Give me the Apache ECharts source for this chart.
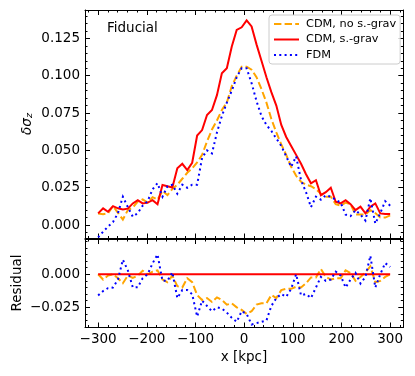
<!DOCTYPE html>
<html>
<head>
<meta charset="utf-8">
<script src="https://cdn.jsdelivr.net/npm/echarts@6/dist/echarts.min.js"></script>
<style>
html, body { margin: 0; padding: 0; background: #fff; }
#chart { width: 415px; height: 376px; }
</style>
</head>
<body>
<div id="chart"></div>
<script>
// x positions of the profile bins [kpc]
const xKpc = [-300, -289.8, -279.7, -269.5, -259.3, -249.2, -239.0, -228.8, -218.6, -208.5,
  -198.3, -188.1, -178.0, -167.8, -157.6, -147.5, -137.3, -127.1, -116.9, -106.8,
  -96.6, -86.4, -76.3, -66.1, -55.9, -45.8, -35.6, -25.4, -15.3, -5.1,
  5.1, 15.3, 25.4, 35.6, 45.8, 55.9, 66.1, 76.3, 86.4, 96.6,
  106.8, 116.9, 127.1, 137.3, 147.5, 157.6, 167.8, 178.0, 188.1, 198.3,
  208.5, 218.6, 228.8, 239.0, 249.2, 259.3, 269.5, 279.7, 289.8, 300];

// top panel: delta sigma_z
const cdmNoSgrav = [0.0078, 0.0072, 0.0079, 0.0127, 0.0082, 0.0037, 0.0100, 0.0118, 0.0157, 0.0172,
  0.0150, 0.0187, 0.0170, 0.0228, 0.0200, 0.0242, 0.0270, 0.0310, 0.0350, 0.0380,
  0.0420, 0.0470, 0.0560, 0.0640, 0.0700, 0.0770, 0.0820, 0.0930, 0.1000, 0.1060,
  0.1060, 0.1040, 0.0990, 0.0910, 0.0820, 0.0710, 0.0620, 0.0540, 0.0470, 0.0390,
  0.0330, 0.0290, 0.0270, 0.0260, 0.0240, 0.0210, 0.0190, 0.0190, 0.0140, 0.0130,
  0.0150, 0.0140, 0.0070, 0.0070, 0.0070, 0.0100, 0.0080, 0.0050, 0.0050, 0.0065];
const cdmSgrav = [0.0078, 0.0112, 0.0089, 0.0127, 0.0112, 0.0105, 0.0110, 0.0145, 0.0167, 0.0145,
  0.0150, 0.0167, 0.0140, 0.0268, 0.0260, 0.0252, 0.0380, 0.0410, 0.0368, 0.0417,
  0.0600, 0.0636, 0.0737, 0.0770, 0.0870, 0.1016, 0.1050, 0.1195, 0.1307, 0.1324,
  0.1370, 0.1330, 0.1210, 0.1100, 0.0990, 0.0890, 0.0800, 0.0670, 0.0590, 0.0530,
  0.0470, 0.0410, 0.0340, 0.0280, 0.0300, 0.0200, 0.0220, 0.0250, 0.0156, 0.0145,
  0.0167, 0.0140, 0.0100, 0.0123, 0.0078, 0.0123, 0.0145, 0.0078, 0.0074, 0.0074];
const fdm = [-0.0083, -0.0045, -0.0010, 0.0020, 0.0080, 0.0190, 0.0120, 0.0056, 0.0080, 0.0130,
  0.0160, 0.0240, 0.0280, 0.0190, 0.0260, 0.0270, 0.0210, 0.0270, 0.0250, 0.0270,
  0.0270, 0.0450, 0.0500, 0.0480, 0.0620, 0.0730, 0.0820, 0.0900, 0.0990, 0.1050,
  0.1050, 0.0950, 0.0830, 0.0730, 0.0670, 0.0630, 0.0580, 0.0530, 0.0460, 0.0390,
  0.0460, 0.0300, 0.0220, 0.0120, 0.0190, 0.0170, 0.0200, 0.0190, 0.0170, 0.0150,
  0.0070, 0.0060, 0.0100, 0.0070, 0.0030, 0.0180, 0.0010, 0.0080, 0.0160, 0.0130];

// bottom panel: residual w.r.t. CDM with self-gravity
const resNoSgrav = [0.0000, -0.0040, -0.0010, 0.0000, -0.0030, -0.0068, -0.0010, -0.0027, -0.0010, 0.0027,
  0.0000, 0.0020, 0.0030, -0.0040, -0.0060, -0.0010, -0.0090, -0.0100, -0.0030, -0.0060,
  -0.0157, -0.0195, -0.0180, -0.0210, -0.0175, -0.0195, -0.0230, -0.0220, -0.0250, -0.0270,
  -0.0300, -0.0280, -0.0230, -0.0220, -0.0220, -0.0157, -0.0180, -0.0120, -0.0110, -0.0110,
  -0.0094, -0.0100, -0.0068, -0.0024, -0.0024, 0.0040, -0.0020, -0.0040, -0.0030, -0.0030,
  0.0030, 0.0010, -0.0050, -0.0020, 0.0015, 0.0060, -0.0060, -0.0050, -0.0020, 0.0000];
const resSgrav = [0, 0, 0, 0, 0, 0, 0, 0, 0, 0, 0, 0, 0, 0, 0, 0, 0, 0, 0, 0,
  0, 0, 0, 0, 0, 0, 0, 0, 0, 0, 0, 0, 0, 0, 0, 0, 0, 0, 0, 0,
  0, 0, 0, 0, 0, 0, 0, 0, 0, 0, 0, 0, 0, 0, 0, 0, 0, 0, 0, 0];
const resFdm = [-0.0160, -0.0127, -0.0105, -0.0100, -0.0040, 0.0110, 0.0030, -0.0100, -0.0098, -0.0030,
  0.0000, 0.0083, 0.0150, -0.0050, -0.0050, 0.0015, -0.0180, -0.0120, -0.0120, -0.0150,
  -0.0320, -0.0200, -0.0240, -0.0280, -0.0250, -0.0260, -0.0290, -0.0330, -0.0360, -0.0280,
  -0.0300, -0.0380, -0.0370, -0.0360, -0.0350, -0.0240, -0.0180, -0.0150, -0.0170, -0.0110,
  0.0000, -0.0160, -0.0150, -0.0180, -0.0100, -0.0020, -0.0050, -0.0040, 0.0020, -0.0010,
  -0.0100, -0.0040, 0.0010, -0.0070, -0.0020, 0.0140, -0.0100, 0.0000, 0.0085, 0.0055];

// tick labels
const xTicks = [-300, -200, -100, 0, 100, 200, 300];
const yTopTicks = [0, 0.025, 0.05, 0.075, 0.1, 0.125];
const yBotTicks = [-0.025, 0];

const FONT = 'DejaVu Sans';
const names = ['CDM, no s.-grav', 'CDM, s.-grav', 'FDM'];
const colors = ['#ffa500', '#ff0000', '#0000ff'];
const dashes = [[7.4, 3.2], 'solid', [2, 3.3]];

const steps = (lo, hi, step) => {
  let out = [];
  for (let i = Math.ceil(lo / step - 1e-9); i * step <= hi + 1e-12; i++) out.push(+(i * step).toFixed(6));
  return out;
};
const fmtX = v => (v < 0 ? '\u2212' : '') + Math.abs(v);
const fmtY = v => (v < -1e-9 ? '\u2212' : '') + Math.abs(v).toFixed(3);

const makeAxis = (gridIndex, position, min, max, ticks, isMajor, labels, fmt) => ({
  type: 'value',
  gridIndex: gridIndex,
  position: position,
  min: min,
  max: max,
  axisLine: { show: isMajor, onZero: false, lineStyle: { color: '#000', width: 1 } },
  axisTick: { show: true, inside: true, length: isMajor ? 5 : 2.5, customValues: ticks, lineStyle: { color: '#000', width: 1 } },
  axisLabel: labels ? {
    show: true, customValues: ticks, formatter: fmt, color: '#000',
    fontFamily: FONT, fontSize: 13.5, margin: 5
  } : { show: false },
  splitLine: { show: false }
});

const X_MIN = -327, X_MAX = 327;
const panels = [
  { yMin: -0.009, yMax: 0.144, yTicks: yTopTicks, yMinorStep: 0.005 },
  { yMin: -0.0403, yMax: 0.0267, yTicks: yBotTicks, yMinorStep: 0.005 }
];
const xMinor = steps(X_MIN, X_MAX, 20).filter(v => v % 100 !== 0);

let xAxes = [], yAxes = [];
panels.forEach((p, g) => {
  const yMinor = steps(p.yMin, p.yMax, p.yMinorStep).filter(v => !p.yTicks.some(t => Math.abs(t - v) < 1e-9));
  xAxes.push(makeAxis(g, 'bottom', X_MIN, X_MAX, xTicks, true, g === 1, fmtX));
  xAxes.push(makeAxis(g, 'bottom', X_MIN, X_MAX, xMinor, false, false));
  xAxes.push(makeAxis(g, 'top', X_MIN, X_MAX, xTicks, true, false));
  xAxes.push(makeAxis(g, 'top', X_MIN, X_MAX, xMinor, false, false));
  yAxes.push(makeAxis(g, 'left', p.yMin, p.yMax, p.yTicks, true, true, fmtY));
  yAxes.push(makeAxis(g, 'left', p.yMin, p.yMax, yMinor, false, false));
  yAxes.push(makeAxis(g, 'right', p.yMin, p.yMax, p.yTicks, true, false));
  yAxes.push(makeAxis(g, 'right', p.yMin, p.yMax, yMinor, false, false));
});

const pairs = arr => xKpc.map((x, i) => [x, arr[i]]);
const lineSeries = (i, arr, g) => ({
  name: names[i],
  type: 'line',
  xAxisIndex: g * 4,
  yAxisIndex: g * 4,
  data: pairs(arr),
  symbol: 'none',
  clip: true,
  z: 2 + i,
  lineStyle: { color: colors[i], width: 2, type: dashes[i], cap: 'butt', join: 'miter' },
  itemStyle: { color: colors[i] }
});

const chart = echarts.init(document.getElementById('chart'), null, { renderer: 'canvas' });
chart.setOption({
  animation: false,
  backgroundColor: '#fff',
  grid: [
    { left: 85, top: 10, width: 318.3, height: 228.5 },
    { left: 85, top: 239, width: 318.3, height: 88.5 }
  ],
  xAxis: xAxes,
  yAxis: yAxes,
  legend: {
    orient: 'vertical',
    left: 269,
    top: 15,
    itemWidth: 25,
    itemHeight: 12,
    itemGap: 4.5,
    padding: [3.5, 4, 3.5, 4],
    borderColor: '#cccccc',
    borderWidth: 1,
    borderRadius: 3,
    backgroundColor: 'rgba(255,255,255,0.8)',
    itemStyle: { opacity: 0 },
    textStyle: { fontFamily: FONT, fontSize: 11.3, color: '#000', padding: [0, 0, 0, 2] },
    data: names
  },
  graphic: [
    { type: 'text', left: 107, top: 21, style: { text: 'Fiducial', font: '13.5px "DejaVu Sans"', fill: '#000' } },
    {
      type: 'text', x: 27, y: 124, rotation: Math.PI / 2,
      style: {
        text: '{a|δσ}{b|z}', align: 'center', verticalAlign: 'middle',
        rich: {
          a: { fontFamily: FONT, fontSize: 13.5, fontStyle: 'italic', fill: '#000' },
          b: { fontFamily: FONT, fontSize: 9.5, fontStyle: 'italic', fill: '#000', padding: [5, 0, 0, 0] }
        }
      }
    },
    {
      type: 'text', x: 17, y: 283, rotation: Math.PI / 2,
      style: { text: 'Residual', font: '13.5px "DejaVu Sans"', fill: '#000', align: 'center', verticalAlign: 'middle' }
    },
    {
      type: 'text', x: 244, y: 357,
      style: { text: 'x [kpc]', font: '13.5px "DejaVu Sans"', fill: '#000', align: 'center', verticalAlign: 'middle' }
    }
  ],
  series: [
    lineSeries(0, cdmNoSgrav, 0),
    lineSeries(1, cdmSgrav, 0),
    lineSeries(2, fdm, 0),
    lineSeries(0, resNoSgrav, 1),
    lineSeries(1, resSgrav, 1),
    lineSeries(2, resFdm, 1)
  ]
});
</script>
</body>
</html>
